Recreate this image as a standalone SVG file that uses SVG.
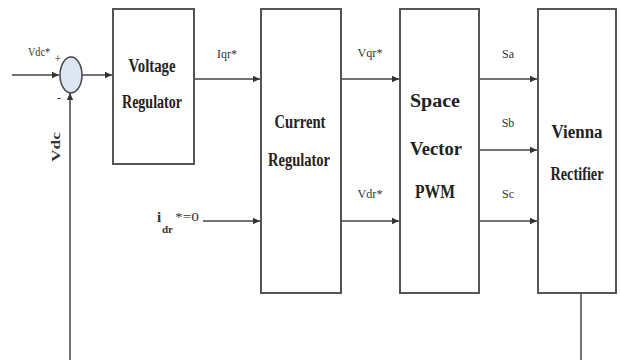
<svg xmlns="http://www.w3.org/2000/svg" width="620" height="360" viewBox="0 0 620 360">
<style>
.box{fill:#fff;stroke:#555;stroke-width:2}
.ln{fill:none;stroke:#444;stroke-width:1.5}
.big{font-family:"Liberation Serif",serif;font-weight:bold;font-size:18px;fill:#222;text-anchor:middle}
.sm{font-family:"Liberation Serif",serif;font-size:12px;fill:#333;text-anchor:middle}
.st{font-family:"Liberation Serif",serif;fill:#333;text-anchor:start}
</style>
<defs>
<marker id="ar" markerWidth="8" markerHeight="8" refX="7" refY="4" orient="auto" markerUnits="userSpaceOnUse">
<path d="M0,0.8 L7,4 L0,7.2 Z" fill="#333"/>
</marker>
</defs>
<rect width="620" height="360" fill="#fff"/>
<g id="connectors">
<path class="ln" d="M12,75 H59" marker-end="url(#ar)"/>
<path class="ln" d="M82,75 H112" marker-end="url(#ar)"/>
<path class="ln" d="M194,79 H260" marker-end="url(#ar)"/>
<path class="ln" d="M203,221 H260" marker-end="url(#ar)"/>
<path class="ln" d="M341,79 H399" marker-end="url(#ar)"/>
<path class="ln" d="M341,221 H399" marker-end="url(#ar)"/>
<path class="ln" d="M479,79 H537" marker-end="url(#ar)"/>
<path class="ln" d="M479,150 H537" marker-end="url(#ar)"/>
<path class="ln" d="M479,221 H537" marker-end="url(#ar)"/>
<path class="ln" d="M581,293 V360"/>
<path class="ln" d="M70,360 V93" stroke="#888" marker-end="url(#ar)"/>
</g>
<g id="sum">
<ellipse cx="71" cy="75" rx="11" ry="18" fill="#dde6f2" stroke="#444" stroke-width="1.5"/>
<text class="sm" x="39" y="56" textLength="22" lengthAdjust="spacingAndGlyphs">Vdc*</text>
<text class="sm" x="58" y="63">+</text>
<text class="sm" x="59" y="102">-</text>
<text class="sm" font-weight="bold" transform="translate(60,147) rotate(-90)" textLength="30" lengthAdjust="spacingAndGlyphs">Vdc</text>
</g>
<g id="voltage-regulator">
<rect class="box" x="113" y="9" width="81" height="155"/>
<text class="big" x="152" y="72" textLength="47" lengthAdjust="spacingAndGlyphs">Voltage</text>
<text class="big" x="152" y="108" textLength="60" lengthAdjust="spacingAndGlyphs">Regulator</text>
</g>
<g id="current-regulator">
<rect class="box" x="261" y="9" width="80" height="284"/>
<text class="big" x="300" y="128" textLength="51" lengthAdjust="spacingAndGlyphs">Current</text>
<text class="big" x="299" y="166" textLength="62" lengthAdjust="spacingAndGlyphs">Regulator</text>
</g>
<g id="svpwm">
<rect class="box" x="400" y="9" width="79" height="284"/>
<text class="big" x="435" y="107" textLength="50" lengthAdjust="spacingAndGlyphs">Space</text>
<text class="big" x="436" y="155" textLength="52" lengthAdjust="spacingAndGlyphs">Vector</text>
<text class="big" x="435" y="198" textLength="40" lengthAdjust="spacingAndGlyphs">PWM</text>
</g>
<g id="vienna-rectifier">
<rect class="box" x="538" y="9" width="78" height="284"/>
<text class="big" x="577" y="138" textLength="51" lengthAdjust="spacingAndGlyphs">Vienna</text>
<text class="big" x="577" y="180" textLength="53" lengthAdjust="spacingAndGlyphs">Rectifier</text>
</g>
<g id="labels">
<text class="sm" x="227" y="58" textLength="20" lengthAdjust="spacingAndGlyphs">Iqr*</text>
<text class="sm" x="370" y="57" textLength="25" lengthAdjust="spacingAndGlyphs">Vqr*</text>
<text class="sm" x="370" y="198" textLength="25" lengthAdjust="spacingAndGlyphs">Vdr*</text>
<text class="sm" x="508" y="58">Sa</text>
<text class="sm" x="508" y="127">Sb</text>
<text class="sm" x="508" y="198">Sc</text>
<text class="st" x="157" y="222" font-weight="bold" font-size="15">i</text>
<text class="st" x="162" y="233" font-weight="bold" font-size="11">dr</text>
<text class="st" x="175" y="221" font-size="13" textLength="24" lengthAdjust="spacingAndGlyphs">*=0</text>
</g>
</svg>
